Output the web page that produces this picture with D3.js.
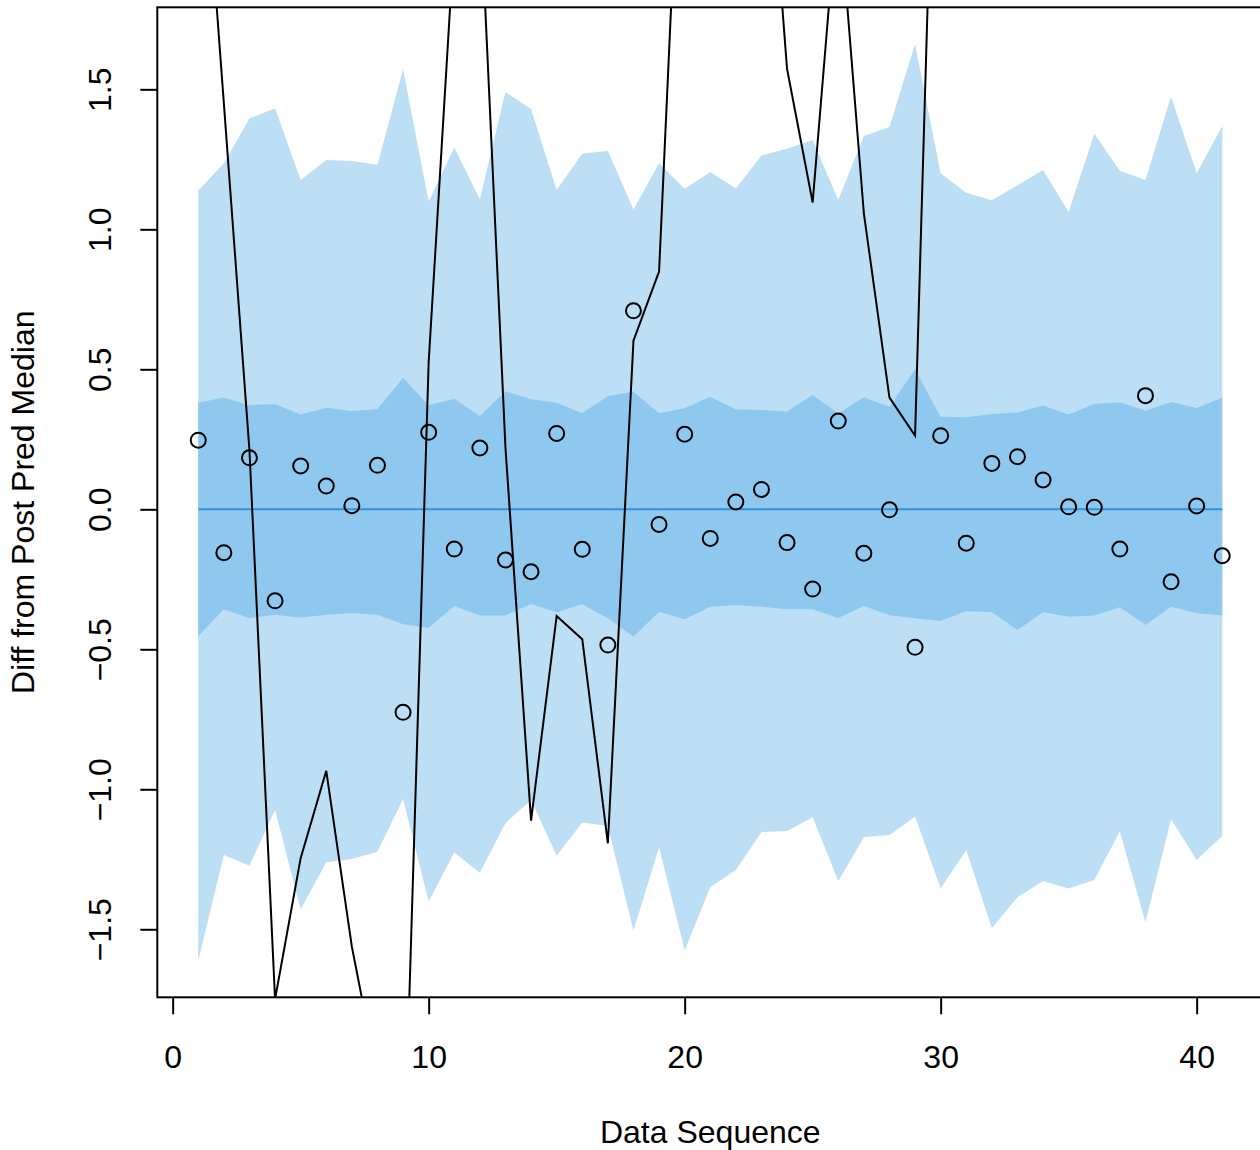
<!DOCTYPE html>
<html><head><meta charset="utf-8">
<script src="https://cdn.jsdelivr.net/npm/d3@7"></script>
<style>
body{margin:0;background:#fff}
svg{display:block}
text{font-family:"Liberation Sans",Arial,Helvetica,sans-serif;fill:#000}
</style>
</head><body>
<svg id="chart" width="1260" height="1150"></svg>
<script>
// ---- data ----
const seq = [1,2,3,4,5,6,7,8,9,10,11,12,13,14,15,16,17,18,19,20,21,22,23,24,25,26,27,28,29,30,31,32,33,34,35,36,37,38,39,40,41];
const observedDiff = [0.247,-0.155,0.184,-0.327,0.155,0.083,0.013,0.157,-0.725,0.275,-0.142,0.219,-0.181,-0.223,0.271,-0.143,-0.485,0.709,-0.054,0.268,-0.104,0.026,0.071,-0.119,-0.285,0.315,-0.157,-0.002,-0.493,0.263,-0.121,0.164,0.188,0.105,0.009,0.007,-0.142,0.406,-0.259,0.012,-0.166];
const replicateDiff = [2.68,1.45,0.21,-1.75,-1.246,-0.934,-1.562,-2.03,-2.48,0.525,2.04,2.21,0.22,-1.112,-0.381,-0.464,-1.193,0.602,0.849,2.86,3.1,3.0,2.76,1.573,1.096,2.2,1.057,0.399,0.263,3.4,3.2,2.9,3.5,3.1,2.8,3.3,3.0,3.6,2.9,3.2,3.4];
const outerUpper = [1.138,1.236,1.396,1.432,1.176,1.248,1.244,1.231,1.572,1.099,1.292,1.107,1.490,1.430,1.140,1.270,1.281,1.071,1.236,1.145,1.205,1.146,1.264,1.288,1.319,1.105,1.333,1.365,1.662,1.200,1.131,1.104,1.157,1.212,1.062,1.341,1.209,1.176,1.474,1.200,1.369];
const outerLower = [-1.612,-1.235,-1.273,-1.074,-1.429,-1.261,-1.249,-1.223,-1.035,-1.401,-1.226,-1.298,-1.121,-1.038,-1.237,-1.119,-1.131,-1.505,-1.207,-1.576,-1.350,-1.288,-1.153,-1.149,-1.100,-1.328,-1.171,-1.163,-1.098,-1.354,-1.217,-1.496,-1.386,-1.328,-1.354,-1.324,-1.151,-1.475,-1.107,-1.253,-1.167];
const innerUpper = [0.381,0.399,0.372,0.376,0.339,0.363,0.351,0.358,0.470,0.372,0.395,0.333,0.422,0.393,0.381,0.343,0.405,0.420,0.343,0.361,0.402,0.357,0.355,0.349,0.408,0.343,0.400,0.366,0.500,0.331,0.329,0.340,0.346,0.371,0.339,0.376,0.382,0.352,0.383,0.362,0.399];
const innerLower = [-0.453,-0.357,-0.389,-0.377,-0.387,-0.377,-0.371,-0.377,-0.411,-0.423,-0.345,-0.379,-0.379,-0.338,-0.368,-0.339,-0.389,-0.455,-0.366,-0.393,-0.348,-0.343,-0.348,-0.357,-0.357,-0.388,-0.345,-0.378,-0.389,-0.399,-0.363,-0.368,-0.431,-0.368,-0.384,-0.379,-0.350,-0.413,-0.348,-0.371,-0.379];
const xTicks = [0,10,20,30,40];
const xTickLabels = ["0","10","20","30","40"];
const yTicks = [-1.5,-1.0,-0.5,0.0,0.5,1.0,1.5];
const yTickLabels = ["\u22121.5","\u22121.0","\u22120.5","0.0","0.5","1.0","1.5"];
const xTitle = "Data Sequence";
const yTitle = "Diff from Post Pred Median";

// ---- layout ----
const L = 157.3, T = 7.3, B = 997.3, pxPerX = 25.6;
const svg = d3.select("#chart");
const xExt = d3.extent(seq), xPad = (xExt[1]-xExt[0])*0.04;
const xDom = [xExt[0]-xPad, xExt[1]+xPad];
const x = d3.scaleLinear().domain(xDom).range([L, L + (xDom[1]-xDom[0])*pxPerX]);
const yMin = d3.min(outerLower), yMax = d3.max(outerUpper), yPad = (yMax-yMin)*0.04;
const y = d3.scaleLinear().domain([yMin-yPad, yMax+yPad]).range([B, T]);
const R = x.range()[1];
const idx = seq.map((d,i)=>i);

svg.append("defs").append("clipPath").attr("id","plotclip")
  .append("rect").attr("x",L).attr("y",T).attr("width",R-L).attr("height",B-T);

const g = svg.append("g").attr("clip-path","url(#plotclip)");

g.append("path").datum(idx)
  .attr("d", d3.area().x(i=>x(seq[i])).y0(i=>y(outerLower[i])).y1(i=>y(outerUpper[i])))
  .attr("fill","#bddff5");
g.append("path").datum(idx)
  .attr("d", d3.area().x(i=>x(seq[i])).y0(i=>y(innerLower[i])).y1(i=>y(innerUpper[i])))
  .attr("fill","#8fc8ef");
g.append("line")
  .attr("x1",x(seq[0])).attr("x2",x(seq[seq.length-1]))
  .attr("y1",y(0)).attr("y2",y(0))
  .attr("stroke","#3592dc").attr("stroke-width",2);
g.append("path").datum(idx)
  .attr("d", d3.line().x(i=>x(seq[i])).y(i=>y(replicateDiff[i])))
  .attr("fill","none").attr("stroke","#000").attr("stroke-width",2).attr("stroke-linejoin","miter");

svg.append("g").selectAll("circle").data(idx).join("circle")
  .attr("cx",i=>x(seq[i])).attr("cy",i=>y(observedDiff[i])).attr("r",7.5)
  .attr("fill","none").attr("stroke","#000").attr("stroke-width",2);

// box
svg.append("rect").attr("x",L).attr("y",T).attr("width",R-L).attr("height",B-T)
  .attr("fill","none").attr("stroke","#000").attr("stroke-width",2);

// x axis
const xa = svg.append("g").attr("transform",`translate(0,${B})`)
  .call(d3.axisBottom(x).tickValues(xTicks).tickSize(17).tickSizeOuter(0).tickFormat((d,i)=>xTickLabels[i]));
xa.select(".domain").remove();
xa.selectAll("line").attr("stroke","#000").attr("stroke-width",2);
xa.selectAll("text").attr("y",70.7).attr("dy",0).attr("font-size",32).attr("fill","#000");

// y axis
const ya = svg.append("g").attr("transform",`translate(${L},0)`)
  .call(d3.axisLeft(y).tickValues(yTicks).tickSize(17).tickSizeOuter(0).tickFormat((d,i)=>yTickLabels[i]));
ya.select(".domain").remove();
ya.selectAll("line").attr("stroke","#000").attr("stroke-width",2);
ya.selectAll("text").attr("x",0).attr("dy",0).attr("text-anchor","middle")
  .attr("transform","translate(-46,0) rotate(-90)").attr("font-size",32).attr("fill","#000");

// titles
svg.append("text").attr("x",(L+R)/2).attr("y",1143).attr("text-anchor","middle")
  .attr("font-size",32).text(xTitle);
svg.append("text").attr("transform",`translate(34,${(T+B)/2}) rotate(-90)`).attr("text-anchor","middle")
  .attr("font-size",32).text(yTitle);
</script>
</body></html>
